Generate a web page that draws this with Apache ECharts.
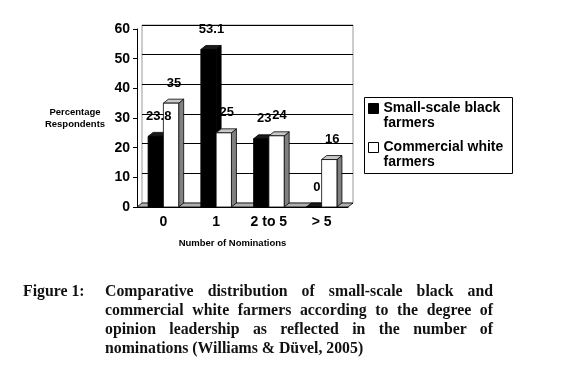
<!DOCTYPE html>
<html>
<head>
<meta charset="utf-8">
<script src="https://cdn.jsdelivr.net/npm/echarts@6/dist/echarts.min.js"></script>
<style>
    html, body { margin: 0; padding: 0; background: #fff; }
    #wrap { position: relative; width: 580px; height: 365px; }
    #chart { position: absolute; left: 0; top: 0; width: 580px; height: 365px; }
    .cap { position: absolute; font-family: "Liberation Serif", serif; font-weight: bold; font-size: 15.8px; line-height: 19px; color: #111; }
    #capLabel { left: 23px; top: 281px; }
    #capText { left: 105px; top: 281px; width: 388px; text-align: justify; }
</style>
</head>
<body>
<div id="wrap">
    <div id="chart"></div>
    <div class="cap" id="capLabel">Figure 1:</div>
    <div class="cap" id="capText">Comparative distribution of small-scale black and commercial white farmers according to the degree of opinion leadership as reflected in the number of nominations (Williams &amp; Düvel, 2005)</div>
</div>
<script>
// 数据
const categories = ['0', '1', '2 to 5', '> 5'];
const blackFarmers = [23.8, 53.1, 23, 0];
const whiteFarmers = [35, 25, 24, 16];
const seriesNames = ['Small-scale black farmers', 'Commercial white farmers'];

const font = '"Liberation Sans", Arial, sans-serif';
const DX = 5, DY = 4;   // 3D 深度偏移

// 3D柱子
function bar3d(side, faceColor, topColor, sideColor) {
    return function (params, api) {
        const cat = api.value(0);
        const val = api.value(1);
        const base = api.coord([cat, 0]);
        const head = api.coord([cat, val]);
        const band = api.size([1, 0])[0];
        const w = band * 0.29;
        const x0 = side < 0 ? base[0] - w : base[0];
        const x1 = x0 + w;
        const yb = base[1], yt = head[1];
        const line = { stroke: '#000', lineWidth: 0.8 };
        return {
            type: 'group',
            children: [
                { type: 'polygon', shape: { points: [[x1, yt], [x1 + DX, yt - DY], [x1 + DX, yb - DY], [x1, yb]] },
                  style: Object.assign({ fill: sideColor }, line) },
                { type: 'polygon', shape: { points: [[x0, yt], [x0 + DX, yt - DY], [x1 + DX, yt - DY], [x1, yt]] },
                  style: Object.assign({ fill: topColor }, line) },
                { type: 'rect', shape: { x: x0, y: yt, width: w, height: yb - yt },
                  style: Object.assign({ fill: faceColor }, line) },
                { type: 'text', z2: 100, style: {
                    text: String(val), x: (x0 + x1) / 2 + 3, y: yt - 20,
                    align: 'center', verticalAlign: 'middle',
                    font: 'bold 13px ' + font, fill: '#000' } }
            ]
        };
    };
}

// 地板
function floor(params, api) {
    const cs = params.coordSys;
    const yb = cs.y + cs.height;
    return {
        type: 'polygon',
        shape: { points: [[cs.x, yb], [cs.x + cs.width, yb], [cs.x + cs.width + DX, yb - DY], [cs.x + DX, yb - DY]] },
        style: { fill: '#b0b0b0', stroke: '#000', lineWidth: 0.8 }
    };
}

// 图例（两行文字，图标对齐第一行）
function legendItem(name, top) {
    return {
        data: [name],
        left: 368,
        top: top,
        orient: 'vertical',
        padding: 0,
        itemWidth: 10,
        itemHeight: 10,
        selectedMode: false,
        icon: 'rect',
        itemStyle: { borderColor: '#000', borderWidth: 1 },
        formatter: n => '\n' + n.replace(' farmers', '\nfarmers'),
        textStyle: { fontFamily: font, fontWeight: 'bold', fontSize: 14, color: '#000', lineHeight: 15 }
    };
}

const chart = echarts.init(document.getElementById('chart'));
chart.setOption({
    animation: false,
    graphic: [
        { type: 'rect', shape: { x: 364.5, y: 97.5, width: 148, height: 76 }, style: { fill: 'none', stroke: '#000', lineWidth: 1 } }
    ],
    legend: [legendItem(seriesNames[0], 86), legendItem(seriesNames[1], 125)],
    grid: [
        { left: 142, right: 227, top: 25, bottom: 162, show: true, borderColor: '#999', borderWidth: 1, backgroundColor: 'transparent' },
        { left: 137, right: 232, top: 29, bottom: 158 }
    ],
    xAxis: [
        { gridIndex: 0, type: 'category', data: categories, show: false },
        {
            gridIndex: 1, type: 'category', data: categories,
            axisLine: { lineStyle: { color: '#000', width: 1 } },
            axisTick: { length: 4, lineStyle: { color: '#000' } },
            axisLabel: { margin: 8, color: '#000', fontFamily: font, fontWeight: 'bold', fontSize: 14 },
            name: 'Number of Nominations', nameLocation: 'middle', nameGap: 31,
            nameTextStyle: { color: '#000', fontFamily: font, fontWeight: 'bold', fontSize: 9.5, padding: [0, 20, 0, 0] }
        }
    ],
    yAxis: [
        {
            gridIndex: 0, type: 'value', min: 0, max: 60, interval: 10,
            axisLine: { show: false },
            axisTick: { show: false }, axisLabel: { show: false },
            splitLine: { lineStyle: { color: '#000', width: 1 } }
        },
        {
            gridIndex: 1, type: 'value', min: 0, max: 60, interval: 10,
            axisLine: { show: true, lineStyle: { color: '#000', width: 1 } },
            axisTick: { show: true, length: 4, lineStyle: { color: '#000' } },
            axisLabel: { margin: 7, color: '#000', fontFamily: font, fontWeight: 'bold', fontSize: 14 },
            splitLine: { show: false },
            name: 'Percentage\nRespondents', nameLocation: 'middle', nameRotate: 0, nameGap: 62,
            nameTextStyle: { align: 'center', color: '#000', fontFamily: font, fontWeight: 'bold', fontSize: 9.5, lineHeight: 12 }
        }
    ],
    series: [
        { name: 'floor', type: 'custom', xAxisIndex: 1, yAxisIndex: 1, silent: true, data: [[0, 0]], renderItem: floor },
        {
            name: seriesNames[0], type: 'custom', xAxisIndex: 1, yAxisIndex: 1,
            encode: { x: 0, y: 1 },
            itemStyle: { color: '#000' },
            data: blackFarmers.map((v, i) => [i, v]),
            renderItem: bar3d(-1, '#000', '#1a1a1a', '#000')
        },
        {
            name: seriesNames[1], type: 'custom', xAxisIndex: 1, yAxisIndex: 1,
            encode: { x: 0, y: 1 },
            itemStyle: { color: '#fff' },
            data: whiteFarmers.map((v, i) => [i, v]),
            renderItem: bar3d(1, '#fff', '#c8c8c8', '#808080')
        }
    ]
});
</script>
</body>
</html>
